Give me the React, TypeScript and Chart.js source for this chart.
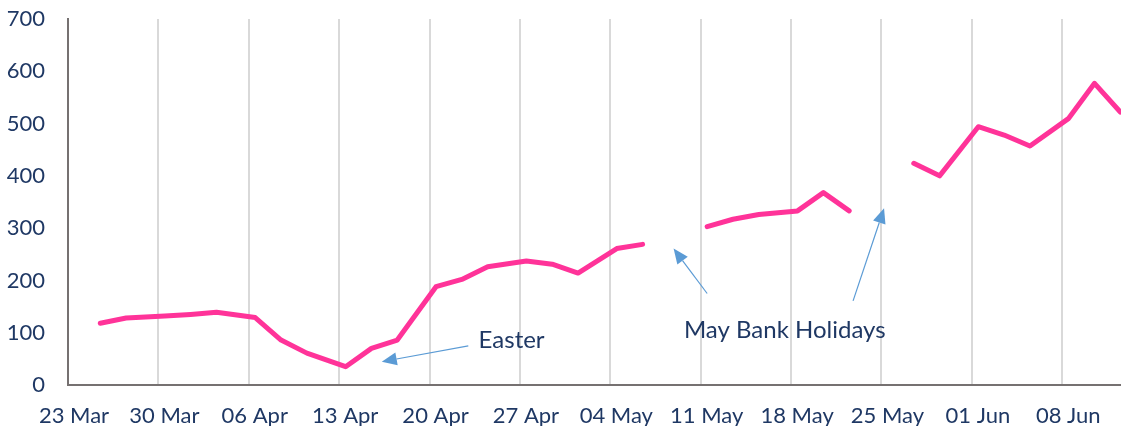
import { useEffect, useRef } from 'react';
import { Chart, registerables } from 'chart.js';

Chart.register(...registerables);

// Day offsets counted from 23 Mar; each weekly tick label sits on a Monday
const weekTickDays = [0, 7, 14, 21, 28, 35, 42, 49, 56, 63, 70, 77];
const weekTickLabels = ['23 Mar', '30 Mar', '06 Apr', '13 Apr', '20 Apr', '27 Apr', '04 May', '11 May', '18 May', '25 May', '01 Jun', '08 Jun'];

// Observations on Mon / Wed / Fri (day offsets from 23 Mar)
const dayOffsets = [2, 4, 7, 9, 11, 14, 16, 18, 21, 23, 25, 28, 30, 32, 35, 37, 39, 42, 44, 46, 49, 51, 53, 56, 58, 60, 63, 65, 67, 70, 72, 74, 77, 79, 81];
const seriesValues: (number | null)[] = [118, 128, 132, 135, 139, 129, 86, 61, 35, 70, 86, 188, 202, 226, 237, 231, 214, 261, 269, null, 303, 317, 326, 333, 368, 333, null, 424, 400, 494, 478, 457, 510, 577, 522];

const yTicks = [0, 100, 200, 300, 400, 500, 600, 700];

// Annotations in data coordinates (day offset, value)
const noteTexts = ['Easter', 'May Bank Holidays'];
const noteAnchors: [number, number][] = [[31.8, 86], [47.7, 105]];
const arrowFrom: [number, number][] = [[31.0, 75], [49.5, 175], [60.8, 161]];
const arrowTo: [number, number][] = [[24.3, 44.6], [46.9, 261], [63.2, 338]];

const TEXT = '#1f3864';
const FONT = 'Lato';

const annotationPlugin = {
  id: 'notes',
  afterDatasetsDraw(chart: any) {
    const { ctx, scales } = chart;
    const xs = scales.x;
    const ys = scales.y;
    ctx.save();
    ctx.fillStyle = TEXT;
    ctx.font = `24px ${FONT}`;
    ctx.textAlign = 'left';
    ctx.textBaseline = 'middle';
    noteTexts.forEach((t, i) => {
      ctx.fillText(t, xs.getPixelForValue(noteAnchors[i][0]), ys.getPixelForValue(noteAnchors[i][1]));
    });
    ctx.strokeStyle = '#5b9bd5';
    ctx.fillStyle = '#5b9bd5';
    ctx.lineWidth = 1.2;
    arrowFrom.forEach((f, i) => {
      const x1 = xs.getPixelForValue(f[0]);
      const y1 = ys.getPixelForValue(f[1]);
      const x2 = xs.getPixelForValue(arrowTo[i][0]);
      const y2 = ys.getPixelForValue(arrowTo[i][1]);
      const ang = Math.atan2(y2 - y1, x2 - x1);
      const len = 15;
      const hw = 6.5;
      const bx = x2 - len * Math.cos(ang);
      const by = y2 - len * Math.sin(ang);
      ctx.beginPath();
      ctx.moveTo(x1, y1);
      ctx.lineTo(bx, by);
      ctx.stroke();
      ctx.beginPath();
      ctx.moveTo(x2, y2);
      ctx.lineTo(bx + hw * Math.sin(ang), by - hw * Math.cos(ang));
      ctx.lineTo(bx - hw * Math.sin(ang), by + hw * Math.cos(ang));
      ctx.closePath();
      ctx.fill();
    });
    ctx.restore();
  },
};

export default function App() {
  const ref = useRef<HTMLCanvasElement>(null);
  useEffect(() => {
    if (!ref.current) return;
    const data = dayOffsets.map((d, i) => ({ x: d + 0.5, y: seriesValues[i] }));
    const chart = new Chart(ref.current, {
      type: 'line',
      data: {
        datasets: [
          {
            data: data as any,
            borderColor: '#ff3399',
            borderWidth: 5,
            pointRadius: 0,
            tension: 0,
            spanGaps: false,
            borderJoinStyle: 'round',
            borderCapStyle: 'round',
          },
        ],
      },
      options: {
        animation: false,
        responsive: true,
        maintainAspectRatio: false,
        layout: { padding: { top: 19, right: 0, left: 0, bottom: 0 } },
        plugins: { legend: { display: false }, tooltip: { enabled: false } },
        scales: {
          x: {
            type: 'linear',
            min: 0,
            max: 81.55,
            afterBuildTicks: (s: any) => {
              s.ticks = weekTickDays.map((v) => ({ value: v }));
            },
            afterFit: (s: any) => {
              s.height = 41;
              s.paddingLeft = 0;
              s.paddingRight = 0;
            },
            ticks: {
              autoSkip: false,
              maxRotation: 0,
              padding: 18,
              labelOffset: 6,
              color: TEXT,
              font: { family: FONT, size: 22 },
              callback: (_v: any, i: number) => weekTickLabels[i],
            },
            grid: {
              drawTicks: false,
              color: (c: any) => (c.tick && c.tick.value === 0 ? 'rgba(0,0,0,0)' : '#d9d9d9'),
              lineWidth: 2,
            },
            border: { color: '#767171', width: 2 },
          },
          y: {
            min: 0,
            max: 700,
            afterBuildTicks: (s: any) => {
              s.ticks = yTicks.map((v) => ({ value: v }));
            },
            afterFit: (s: any) => {
              s.width = 68;
              s.paddingTop = 0;
              s.paddingBottom = 0;
            },
            ticks: {
              padding: 23,
              color: TEXT,
              font: { family: FONT, size: 22 },
            },
            grid: { display: false, drawTicks: false },
            border: { color: '#767171', width: 2 },
          },
        },
      },
      plugins: [annotationPlugin],
    });
    return () => chart.destroy();
  }, []);
  return (
    <div style={{ position: 'fixed', left: 0, top: 0, width: 1121, height: 426 }}>
      <canvas ref={ref} />
    </div>
  );
}
